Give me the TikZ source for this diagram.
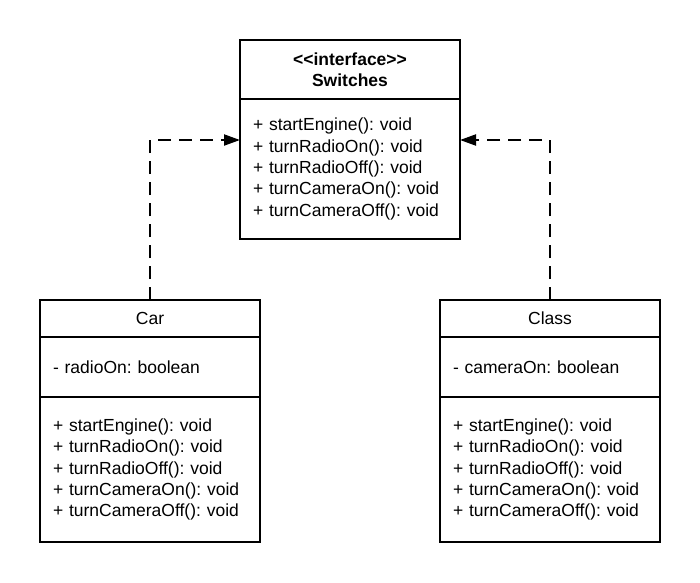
\documentclass[tikz,border=0pt]{standalone}
\usepackage{fontspec}
\setmainfont{Liberation Sans}
\frenchspacing
\usetikzlibrary{arrows.meta, positioning}

\tikzset{
  umlbox/.style={draw, line width=2pt, outer sep=0pt, inner sep=0pt, minimum width=220pt, align=center, font=\fontsize{17.5pt}{21.3pt}\selectfont},
  umllist/.style={umlbox, align=left, text width=194pt, inner xsep=13pt},
  realizes/.style={line width=2pt, dash pattern=on 13pt off 8pt, -{Triangle[length=16pt, width=11pt]}}
}

\begin{document}
\begin{tikzpicture}[x=1pt, y=-1pt]
        \useasboundingbox (0, 0) rectangle (700, 582);

        % Interface
        \node[umlbox, minimum height=59pt] (sw) at (350, 69.5) {\textbf{{<}{<}interface{>}{>}}\\\textbf{Switches}};
        \node[umllist, minimum height=140pt, below=0pt of sw] (swops) {+ startEngine(): void\\+ turnRadioOn(): void\\+ turnRadioOff(): void\\+ turnCameraOn(): void\\+ turnCameraOff(): void};

        % Car
        \node[umlbox, minimum height=37pt] (car) at (150, 318.5) {Car};
        \node[umllist, minimum height=60pt, below=0pt of car] (carattr) {- radioOn: boolean};
        \node[umllist, minimum height=145pt, below=0pt of carattr] (carops) {+ startEngine(): void\\+ turnRadioOn(): void\\+ turnRadioOff(): void\\+ turnCameraOn(): void\\+ turnCameraOff(): void};

        % Class
        \node[umlbox, minimum height=37pt] (cls) at (550, 318.5) {Class};
        \node[umllist, minimum height=60pt, below=0pt of cls] (clsattr) {- cameraOn: boolean};
        \node[umllist, minimum height=145pt, below=0pt of clsattr] (clsops) {+ startEngine(): void\\+ turnRadioOn(): void\\+ turnRadioOff(): void\\+ turnCameraOn(): void\\+ turnCameraOff(): void};

        % Realizations
        \coordinate (carbend) at (150, 140);
        \coordinate (clsbend) at (550, 140);
        \draw[realizes] (car.north) -- (carbend) -- (swops.west |- carbend);
        \draw[realizes] (cls.north) -- (clsbend) -- (swops.east |- clsbend);
    \end{tikzpicture}
\end{document}
